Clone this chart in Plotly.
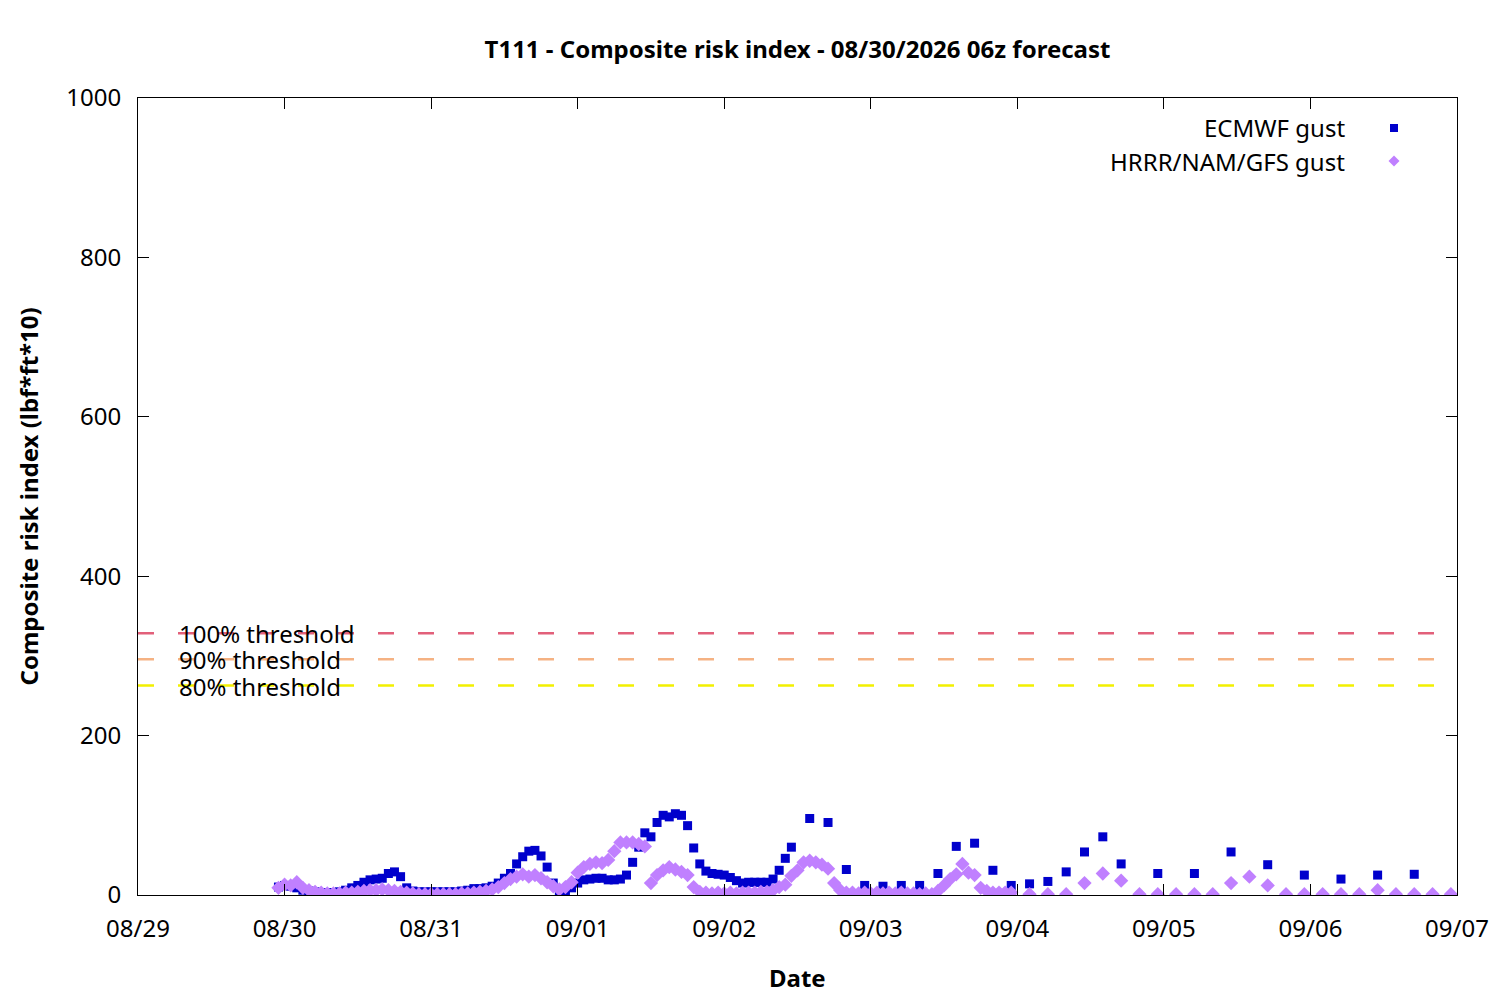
import plotly.graph_objects as go
import pandas as pd

# ---------------- data ----------------
# ECMWF gust: hourly 08/29 23:00 -> 09/02 11:00, 3-hourly 09/02 14:00 -> 09/04 17:00, 6-hourly 09/04 23:00 -> 09/06 17:00
ecmwf_hourly = [10, 12, 11, 9, 6, 5, 4, 3, 3, 3, 4, 6, 9, 12, 16, 19, 20, 21, 27, 29, 23, 9, 5, 4,
                4, 4, 4, 4, 4, 4, 5, 6, 8, 8, 9, 11, 15, 21, 27, 39, 48, 55, 56, 49, 35, 15, 5, 4,
                9, 15, 19, 20, 21, 21, 19, 19, 20, 25, 41, 60, 78, 73, 91, 100, 98, 102, 100, 87, 59, 39,
                30, 27, 26, 25, 22, 18, 15, 16, 16, 16, 16, 20, 31, 46, 60]
ecmwf_3h = [96, 91, 32, 12, 11, 12, 12, 27, 61, 65, 31, 12, 14, 17, 29, 54, 73, 39]
ecmwf_6h = [27, 27, 54, 38, 25, 20, 25, 26]

# HRRR/NAM/GFS gust: hourly 08/29 23:00 -> 09/04 23:00, then 3-hourly to 09/07 23:00
hrrr_hourly = [9, 13, 12, 16, 9, 6, 4, 3, 2, 2, 2, 3, 3, 4, 5, 6, 6, 7, 6, 5, 4, 3, 2, 1,
               1, 1, 1, 1, 1, 1, 2, 2, 3, 4, 5, 7, 10, 15, 20, 23, 26, 23, 25, 21, 16, 11, 7, 10,
               16, 28, 35, 39, 41, 40, 44, 55, 66, 66, 66, 64, 61, 15, 25, 31, 35, 32, 29, 25, 10, 4,
               3, 2, 3, 2, 3, 2, 3, 3, 3, 4, 4, 6, 10, 13, 24, 31, 41, 43, 41, 38, 33, 15, 6, 3,
               3, 2, 3, 2, 3, 2, 3, 2, 3, 2, 2, 1, 2, 1, 5, 12, 20, 26, 39, 28, 25, 9, 5, 3,
               3, 3, 3]
hrrr_3h = [1, 1, 1, 15, 27, 18, 1, 1, 1, 1, 1, 15, 23, 12, 1, 1, 1, 1, 1, 6, 1, 1, 1, 1]

threshold_100 = 328.5
threshold_labels = ["100% threshold", "90% threshold", "80% threshold"]
threshold_values = [threshold_100, threshold_100 * 0.9, threshold_100 * 0.8]
threshold_colors = ["#e2607a", "#f5b283", "#f2f000"]

x_ticks = ["08/29", "08/30", "08/31", "09/01", "09/02", "09/03", "09/04", "09/05", "09/06", "09/07"]

# sample times (regular model output times)
ecmwf_t = (list(pd.date_range("2026-08-29 23:00", periods=len(ecmwf_hourly), freq="1h"))
           + list(pd.date_range("2026-09-02 14:00", periods=len(ecmwf_3h), freq="3h"))
           + list(pd.date_range("2026-09-04 23:00", periods=len(ecmwf_6h), freq="6h")))
ecmwf_v = ecmwf_hourly + ecmwf_3h + ecmwf_6h
hrrr_t = (list(pd.date_range("2026-08-29 23:00", periods=len(hrrr_hourly), freq="1h"))
          + list(pd.date_range("2026-09-04 02:00", periods=len(hrrr_3h), freq="3h")))
hrrr_v = hrrr_hourly + hrrr_3h

FONT = "Noto Sans"
FS = 24
X0, X1 = "2026-08-29", "2026-09-07"

fig = go.Figure()

for lab, val, col in zip(threshold_labels, threshold_values, threshold_colors):
    fig.add_trace(go.Scatter(x=[X0, "2026-09-06 21:00"], y=[val, val], mode="lines",
                             line=dict(color=col, width=2.5, dash="16px,24px"),
                             hoverinfo="skip", showlegend=False))

fig.add_trace(go.Scatter(x=ecmwf_t, y=ecmwf_v, mode="markers", name="ECMWF gust",
                         marker=dict(symbol="square", size=9, color="#0000cc"), showlegend=False))
fig.add_trace(go.Scatter(x=hrrr_t, y=hrrr_v, mode="markers", name="HRRR/NAM/GFS gust",
                         marker=dict(symbol="diamond", size=11, color="#c080ff"), showlegend=False))

L, R, T, B = 138, 1457, 98, 895
W, H = R - L, B - T
def px(x):
    return (x - L) / W
def py(y):
    return (B - y) / H

annotations = []
for lab, val in zip(threshold_labels, threshold_values):
    annotations.append(dict(x=px(177), y=val, xref="paper", yref="y", text=lab, showarrow=False,
                            xanchor="left", yanchor="middle", height=24, valign="middle",
                            font=dict(family=FONT, size=FS, color="black")))

# legend (text left, symbol right)
annotations.append(dict(x=px(1347), y=py(128), xref="paper", yref="paper", text="ECMWF gust",
                        showarrow=False, xanchor="right", yanchor="middle",
                        font=dict(family=FONT, size=FS, color="black")))
annotations.append(dict(x=px(1347), y=py(161), xref="paper", yref="paper", text="HRRR/NAM/GFS gust",
                        showarrow=False, xanchor="right", yanchor="middle",
                        font=dict(family=FONT, size=FS, color="black")))
# axis titles
annotations.append(dict(x=0.5, y=py(977), xref="paper", yref="paper", text="<b>Date</b>",
                        showarrow=False, xanchor="center", yanchor="middle",
                        font=dict(family=FONT, size=FS, color="black")))
annotations.append(dict(x=px(28), y=0.5, xref="paper", yref="paper", text="<b>Composite risk index (lbf*ft*10)</b>",
                        showarrow=False, xanchor="center", yanchor="middle", textangle=-90,
                        font=dict(family=FONT, size=FS, color="black")))

shapes = [
    dict(type="rect", xref="paper", yref="paper", x0=px(1390), x1=px(1398), y0=py(132), y1=py(124),
         fillcolor="#0000cc", line=dict(width=0)),
    dict(type="path", xref="paper", yref="paper",
         path=f"M {px(1394)},{py(155.5)} L {px(1399.5)},{py(161)} L {px(1394)},{py(166.5)} L {px(1388.5)},{py(161)} Z",
         fillcolor="#c080ff", line=dict(width=0)),
]

fig.update_layout(
    width=1500, height=1000,
    margin=dict(l=L, r=1500 - R, t=T, b=1000 - B),
    paper_bgcolor="white", plot_bgcolor="white",
    showlegend=False,
    title=dict(text="<b>T111 - Composite risk index - 08/30/2026 06z forecast</b>",
               xref="paper", x=0.5, xanchor="center", yref="container", y=1 - 50 / 1000, yanchor="middle",
               font=dict(family=FONT, size=FS, color="black")),
    font=dict(family=FONT, size=FS, color="black"),
    annotations=annotations, shapes=shapes,
)
fig.update_xaxes(type="date", range=[X0, X1],
                 tickvals=list(pd.date_range(X0, X1, freq="1D")), ticktext=x_ticks,
                 ticks="inside", ticklen=11, tickcolor="black", showline=True, linecolor="black",
                 linewidth=1, mirror="ticks", showgrid=False, zeroline=False,
                 tickfont=dict(family=FONT, size=FS), ticklabelstandoff=12)
fig.update_yaxes(range=[0, 1000], dtick=200, ticks="inside", ticklen=11, tickcolor="black",
                 showline=True, linecolor="black", linewidth=1, mirror="ticks", showgrid=False,
                 zeroline=False, tickfont=dict(family=FONT, size=FS), ticklabelstandoff=11)

fig.write_html("out.html", config={"displayModeBar": False},
               post_script="document.body.style.margin='0';")
